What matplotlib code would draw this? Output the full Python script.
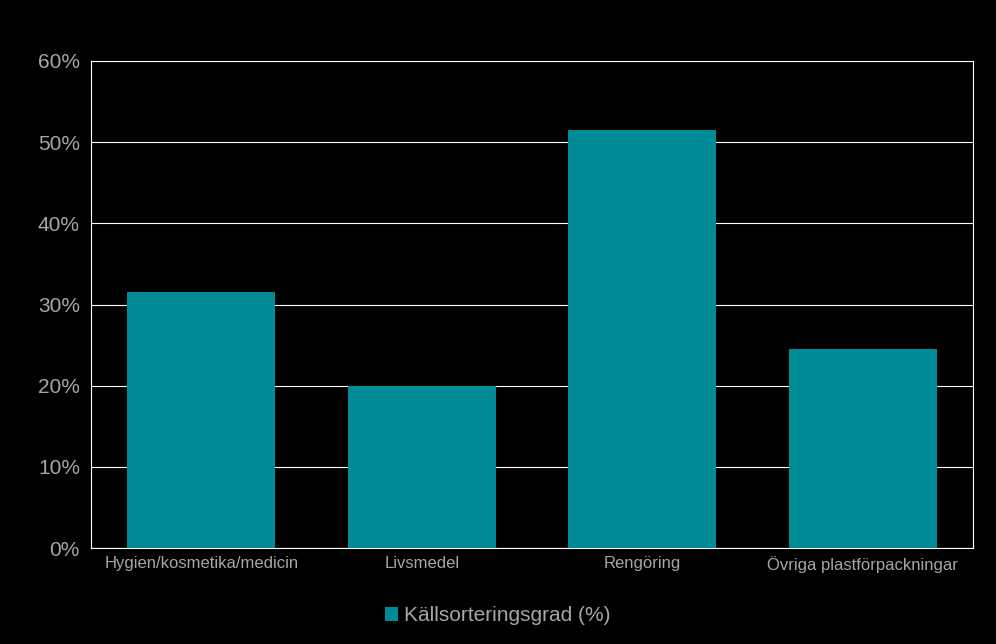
import matplotlib
matplotlib.use("Agg")
import matplotlib.pyplot as plt
from matplotlib.ticker import FuncFormatter

categories = ["Hygien/kosmetika/medicin", "Livsmedel", "Rengöring", "Övriga plastförpackningar"]
values = [31.5, 20.0, 51.5, 24.5]
series_name = "Källsorteringsgrad (%)"

plt.rcParams["font.family"] = "Liberation Sans"
fig = plt.figure(figsize=(9.96, 6.44), dpi=100, facecolor="black")
ax = fig.add_axes([91/996, 96/644, 882/996, 487/644], facecolor="black")
x = range(len(categories))
ax.bar(x, values, width=0.67, color="#008B96", label=series_name, zorder=3)
ax.set_xlim(-0.5, len(categories) - 0.5)
ax.set_ylim(0, 60)
ax.set_yticks(range(0, 61, 10))
ax.yaxis.set_major_formatter(FuncFormatter(lambda v, p: f"{int(v)}%"))
ax.grid(axis="y", color="white", linewidth=0.8, zorder=0)
for s in ax.spines.values():
    s.set_color("white"); s.set_linewidth(0.8)
ax.set_xticks(list(x))
ax.set_xticklabels(categories, fontsize=12, color="#A6A6A6")
ax.tick_params(axis="y", labelsize=15, colors="#A6A6A6", length=0, pad=8)
ax.tick_params(axis="x", length=0, pad=6)
leg = fig.legend(loc="lower center", bbox_to_anchor=(0.5, 0.0), frameon=False,
                 fontsize=15, handlelength=0.6, handleheight=0.6, handletextpad=0.3)
for t in leg.get_texts():
    t.set_color("#A6A6A6")
fig.savefig("out.png", dpi=100, facecolor="black")
